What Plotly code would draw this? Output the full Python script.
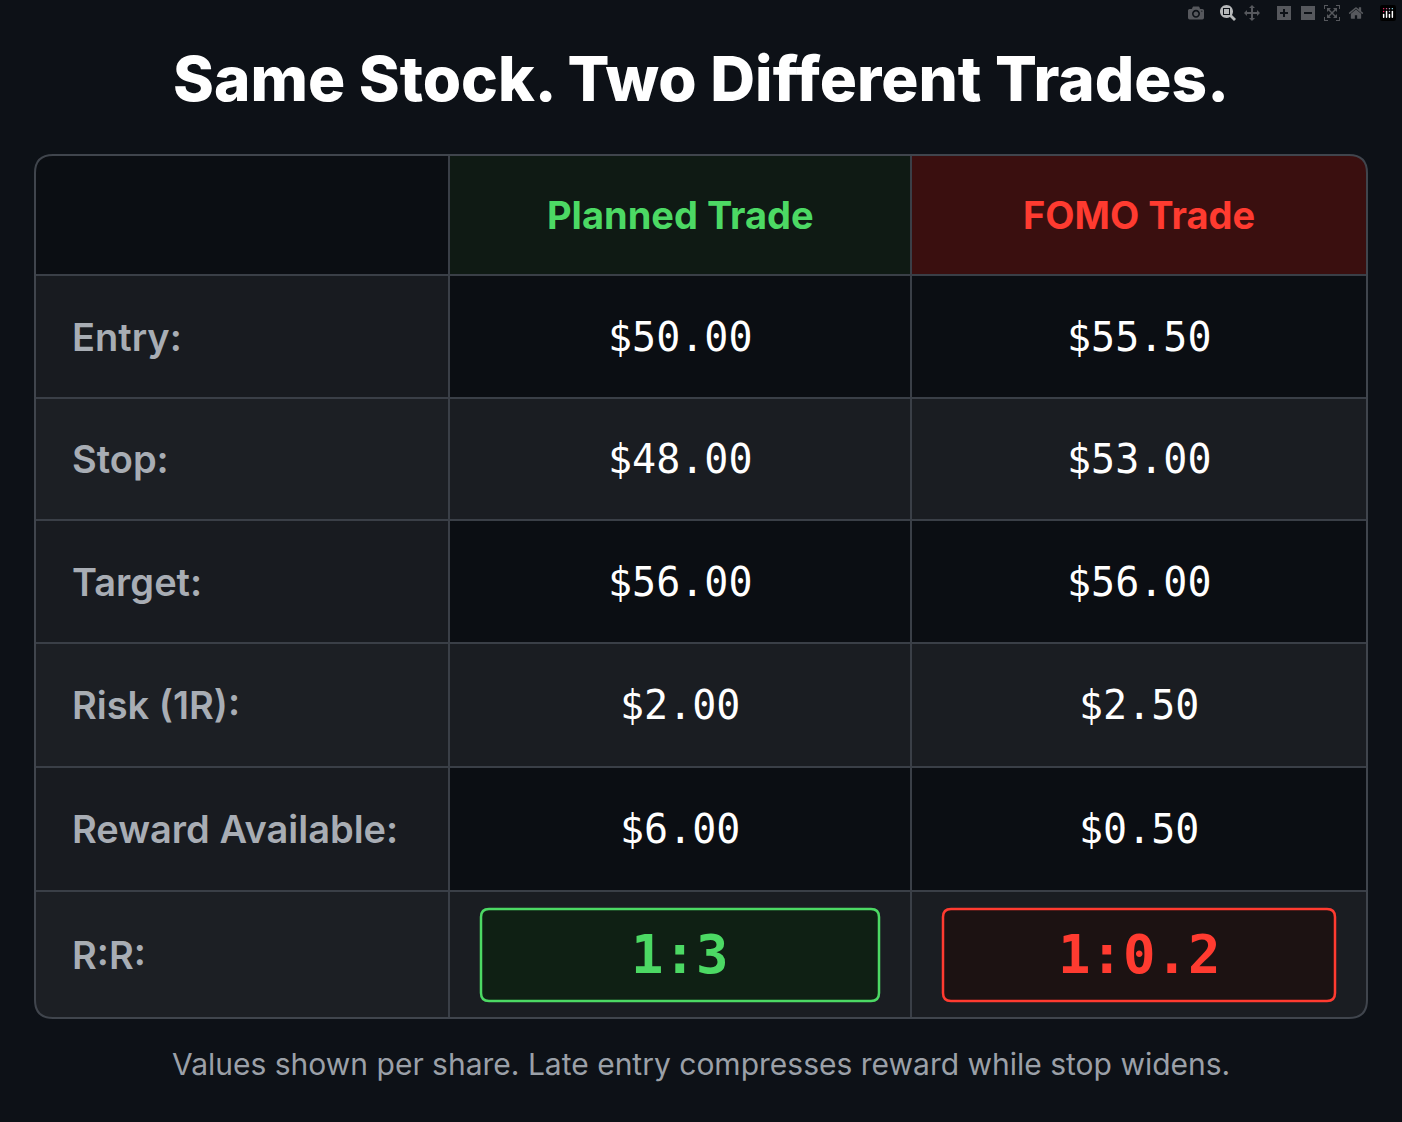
import plotly.graph_objects as go

title = "Same Stock. Two Different Trades."
columns = ["Planned Trade", "FOMO Trade"]
row_labels = ["Entry:", "Stop:", "Target:", "Risk (1R):", "Reward Available:", "R:R:"]
planned = ["$50.00", "$48.00", "$56.00", "$2.00", "$6.00", "1:3"]
fomo = ["$55.50", "$53.00", "$56.00", "$2.50", "$0.50", "1:0.2"]
footnote = "Values shown per share. Late entry compresses reward while stop widens."

W, H = 1402, 1122
BG = "#0d1117"
L, R, T, B = 35, 1367, 155, 1018
cx = [35, 449, 911, 1367]
ry = [155, 275, 398, 520, 643, 767, 891, 1018]
GREEN, RED = "#4cd964", "#ff3b30"
LINE = "#3a3f47"

def rrect(x0, y0, x1, y1, r):
    return (f"M{x0+r},{y0} L{x1-r},{y0} Q{x1},{y0} {x1},{y0+r} L{x1},{y1-r} Q{x1},{y1} {x1-r},{y1} "
            f"L{x0+r},{y1} Q{x0},{y1} {x0},{y1-r} L{x0},{y0+r} Q{x0},{y0} {x0+r},{y0} Z")

shapes, ann = [], []
shapes.append(dict(type="path", path=rrect(L, T, R, B, 18), fillcolor="#0b0e13", line_width=0, layer="below"))
for i in range(len(row_labels)):
    y0, y1 = ry[i+1], ry[i+2]
    lighter = i % 2 == 1
    labfill = "#1c1f24" if lighter else "#181b20"
    valfill = "#1a1d22" if lighter else "#0b0e13"
    if i == len(row_labels) - 1:
        shapes.append(dict(type="path", path=f"M{cx[0]},{y0} L{cx[1]},{y0} L{cx[1]},{y1} L{cx[0]+18},{y1} Q{cx[0]},{y1} {cx[0]},{y1-18} Z",
                           fillcolor=labfill, line_width=0, layer="below"))
        shapes.append(dict(type="path", path=f"M{cx[1]},{y0} L{cx[3]},{y0} L{cx[3]},{y1-18} Q{cx[3]},{y1} {cx[3]-18},{y1} L{cx[1]},{y1} Z",
                           fillcolor=valfill, line_width=0, layer="below"))
    else:
        shapes.append(dict(type="rect", x0=cx[0], x1=cx[1], y0=y0, y1=y1, fillcolor=labfill, line_width=0, layer="below"))
        shapes.append(dict(type="rect", x0=cx[1], x1=cx[3], y0=y0, y1=y1, fillcolor=valfill, line_width=0, layer="below"))
    ann.append(dict(x=70, y=(y0+y1)/2, text=row_labels[i], xanchor="left", showarrow=False,
                    font=dict(family="Inter", size=38, color="#a8adb4", weight=600)))
    for j, vals in enumerate([planned, fomo]):
        xm = (cx[j+1]+cx[j+2])/2
        if i == len(row_labels) - 1:
            col = GREEN if j == 0 else RED
            fill = "#0f2014" if j == 0 else "#1c1212"
            pad = 32
            shapes.append(dict(type="path", path=rrect(cx[j+1]+pad, y0+18, cx[j+2]-pad, y1-17, 8),
                               fillcolor=fill, line=dict(color=col, width=2.5)))
            ann.append(dict(x=xm, y=(y0+y1)/2, text=f"<b>{vals[i]}</b>", showarrow=False,
                            font=dict(family="DejaVu Sans Mono", size=54, color=col)))
        else:
            ann.append(dict(x=xm, y=(y0+y1)/2, text=vals[i], showarrow=False,
                            font=dict(family="DejaVu Sans Mono", size=40, color="#ffffff", weight=500)))
shapes.append(dict(type="path", path=f"M{cx[1]},{T} L{cx[2]},{T} L{cx[2]},{ry[1]} L{cx[1]},{ry[1]} Z", fillcolor="#0f1a14", line_width=0, layer="below"))
shapes.append(dict(type="path", path=f"M{cx[2]},{T} L{R-18},{T} Q{R},{T} {R},{T+18} L{R},{ry[1]} L{cx[2]},{ry[1]} Z", fillcolor="#3a0f0f", line_width=0, layer="below"))
for j, c in enumerate(columns):
    ann.append(dict(x=(cx[j+1]+cx[j+2])/2, y=(ry[0]+ry[1])/2, text=c, showarrow=False,
                    font=dict(family="Inter", size=38, color=[GREEN, RED][j], weight=700)))
for y in ry[1:-1]:
    shapes.append(dict(type="line", x0=L, x1=R, y0=y, y1=y, line=dict(color=LINE, width=2)))
for x in cx[1:-1]:
    shapes.append(dict(type="line", x0=x, x1=x, y0=T, y1=B, line=dict(color=LINE, width=2)))
shapes.append(dict(type="path", path=rrect(L, T, R, B, 18), line=dict(color="#40454d", width=2)))

ann.append(dict(x=W/2, y=78, text=title, showarrow=False, font=dict(family="Inter", size=62, color="#ffffff", weight=800)))
ann.append(dict(x=W/2, y=1064, text=footnote, showarrow=False, font=dict(family="Inter", size=30, color="#9ba0a8")))

fig = go.Figure()
fig.update_layout(width=W, height=H, margin=dict(l=0, r=0, t=0, b=0), paper_bgcolor=BG, plot_bgcolor=BG,
                  xaxis=dict(range=[0, W], visible=False), yaxis=dict(range=[H, 0], visible=False),
                  shapes=shapes, annotations=ann, showlegend=False)
fig.write_html("out.html", post_script="document.body.style.margin='0';document.body.style.background='#0d1117';document.body.style.overflow='hidden';")
